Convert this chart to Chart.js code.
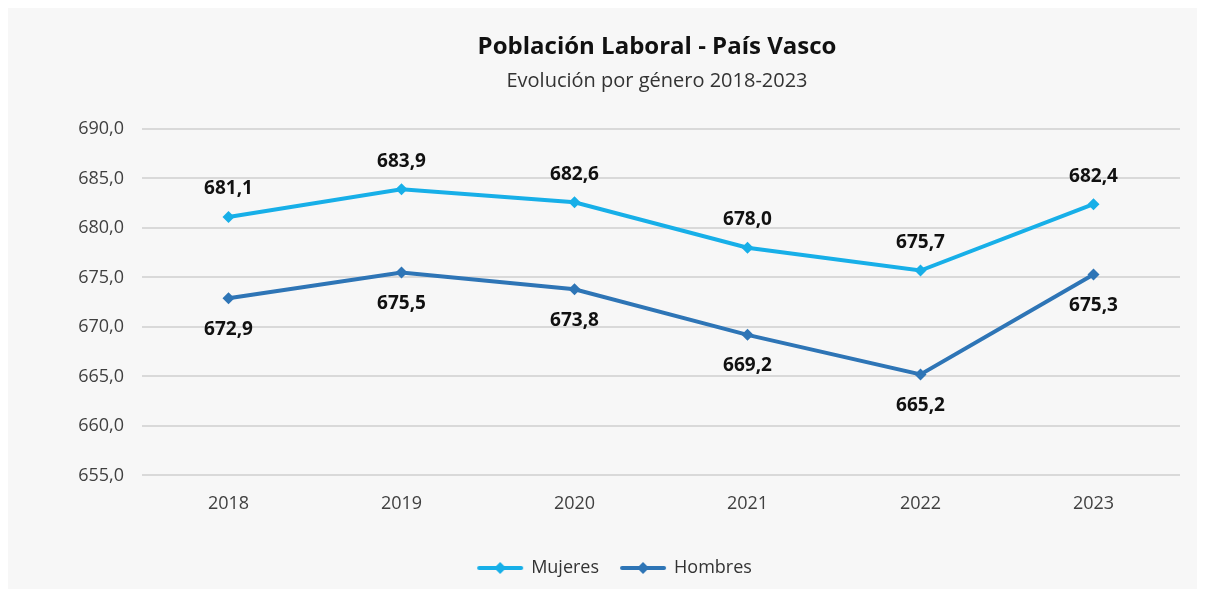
<!DOCTYPE html>
<html>
<head>
<meta charset="utf-8">
<script src="https://cdn.jsdelivr.net/npm/chart.js@4/dist/chart.umd.min.js"></script>
<style>
  html, body { margin: 0; padding: 0; background: #ffffff; }
  #wrap { width: 1205px; height: 595px; }
</style>
</head>
<body>
<div id="wrap"><canvas id="myChart" width="1205" height="595"></canvas></div>
<script>
const years = ['2018', '2019', '2020', '2021', '2022', '2023'];
const mujeres = [681.1, 683.9, 682.6, 678.0, 675.7, 682.4];
const hombres = [672.9, 675.5, 673.8, 669.2, 665.2, 675.3];
const yTicks = [655, 660, 665, 670, 675, 680, 685, 690];

const titleText = 'Población Laboral - País Vasco';
const subtitleText = 'Evolución por género 2018-2023';

const FONT = "'Open Sans', 'Noto Sans', sans-serif";
const colMuj = '#17afe8';
const colHom = '#2e75b6';

const fmt = v => v.toFixed(1).replace('.', ',');

// legend sample: short line with a diamond in the middle
function legendIcon(color) {
  const c = document.createElement('canvas');
  c.width = 48;
  c.height = 14;
  const g = c.getContext('2d');
  g.strokeStyle = color;
  g.lineWidth = 4;
  g.lineCap = 'round';
  g.beginPath();
  g.moveTo(3, 7);
  g.lineTo(45, 7);
  g.stroke();
  g.fillStyle = color;
  g.beginPath();
  g.moveTo(24, 1);
  g.lineTo(30, 7);
  g.lineTo(24, 13);
  g.lineTo(18, 7);
  g.closePath();
  g.fill();
  return c;
}

// grey panel + title block centred over the plot area
const panel = {
  id: 'panel',
  beforeDraw(chart) {
    const { ctx, chartArea } = chart;
    ctx.save();
    ctx.fillStyle = '#f7f7f7';
    ctx.fillRect(8, 8, chart.width - 16, chart.height - 14);
    const cx = (chartArea.left + chartArea.right) / 2 - 4;
    ctx.textAlign = 'center';
    ctx.textBaseline = 'middle';
    ctx.fillStyle = '#111111';
    ctx.font = `bold 24px ${FONT}`;
    ctx.fillText(titleText, cx, 47);
    ctx.fillStyle = '#333333';
    ctx.font = `20px ${FONT}`;
    ctx.fillText(subtitleText, cx, 81);
    ctx.restore();
  },
};

// value labels: above for Mujeres, below for Hombres
const valueLabels = {
  id: 'valueLabels',
  afterDatasetsDraw(chart) {
    const { ctx } = chart;
    ctx.save();
    ctx.font = `bold 19px ${FONT}`;
    ctx.fillStyle = '#111111';
    ctx.textAlign = 'center';
    ctx.textBaseline = 'middle';
    chart.data.datasets.forEach((ds, i) => {
      const meta = chart.getDatasetMeta(i);
      meta.data.forEach((pt, j) => {
        const dy = i === 0 ? -28 : 31;
        ctx.fillText(fmt(ds.data[j]), pt.x, pt.y + dy);
      });
    });
    ctx.restore();
  },
};

const ctx = document.getElementById('myChart').getContext('2d');
new Chart(ctx, {
  type: 'line',
  data: {
    labels: years,
    datasets: [
      {
        label: 'Mujeres',
        data: mujeres,
        borderColor: colMuj,
        backgroundColor: colMuj,
        borderWidth: 4,
        pointStyle: 'rectRot',
        pointRadius: 6,
        pointBackgroundColor: colMuj,
        pointBorderWidth: 0,
        tension: 0,
      },
      {
        label: 'Hombres',
        data: hombres,
        borderColor: colHom,
        backgroundColor: colHom,
        borderWidth: 4,
        pointStyle: 'rectRot',
        pointRadius: 6,
        pointBackgroundColor: colHom,
        pointBorderWidth: 0,
        tension: 0,
      },
    ],
  },
  options: {
    responsive: false,
    animation: false,
    layout: { padding: { left: 50, right: 25, top: 129, bottom: 8 } },
    plugins: {
      title: { display: false },
      legend: {
        position: 'bottom',
        labels: {
          usePointStyle: true,
          pointStyleWidth: 44,
          padding: 22,
          color: '#333333',
          font: { family: FONT, size: 18 },
          generateLabels(chart) {
            return chart.data.datasets.map((ds, i) => ({
              text: ds.label,
              pointStyle: legendIcon(ds.borderColor),
              fillStyle: ds.borderColor,
              strokeStyle: ds.borderColor,
              lineWidth: 0,
              datasetIndex: i,
              fontColor: '#333333',
            }));
          },
        },
      },
      tooltip: { enabled: false },
    },
    scales: {
      x: {
        offset: true,
        grid: { display: false },
        border: { display: false },
        ticks: { color: '#404040', font: { family: FONT, size: 18 }, padding: 10 },
        afterFit(scale) {
          scale.height += 12;
        },
      },
      y: {
        min: 655,
        max: 690,
        afterBuildTicks(scale) {
          scale.ticks = yTicks.map(v => ({ value: v }));
        },
        afterFit(scale) {
          scale.width = 92;
        },
        grid: { color: '#d9d9d9', lineWidth: 2, drawTicks: false },
        border: { display: false },
        ticks: {
          color: '#404040',
          font: { family: FONT, size: 18 },
          padding: 18,
          callback: v => fmt(v),
        },
      },
    },
  },
  plugins: [panel, valueLabels],
});
</script>
</body>
</html>
